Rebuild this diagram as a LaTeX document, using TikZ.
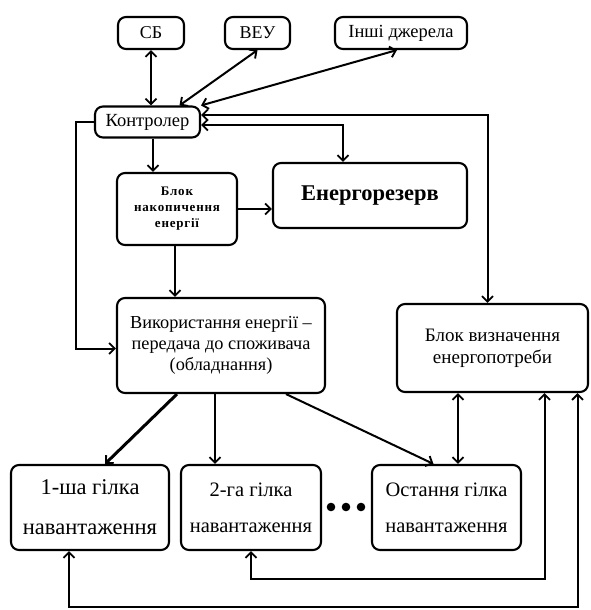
\documentclass[tikz,border=0pt]{standalone}
\usepackage{fontspec}
\setmainfont{Liberation Serif}
\usetikzlibrary{arrows.meta}
\tikzset{
  box/.style={draw, rounded corners=8pt, line width=2.1pt, align=center, inner sep=0pt},
  tip/.tip={Straight Barb[length=5.5pt,width=11pt,line width=1.9pt]},
  conn/.style={line width=2pt, -tip},
  conn2/.style={line width=2pt, tip-tip},
}
\begin{document}
\begin{tikzpicture}[x=1pt,y=-1pt]
\useasboundingbox (0,0) rectangle (590,610);
% nodes
\node[box, minimum width=66pt, minimum height=32pt, font=\fontsize{18}{20}\selectfont] (sb) at (151,33) {СБ};
\node[box, minimum width=65pt, minimum height=32pt, font=\fontsize{18}{20}\selectfont] (veu) at (257.5,33) {ВЕУ};
\node[box, minimum width=132pt, minimum height=32pt, font=\fontsize{18.5}{20}\selectfont] (inshi) at (401,33) {Інші джерела};
\node[box, minimum width=105pt, minimum height=31pt, font=\fontsize{18.5}{20}\selectfont] (ctrl) at (147.5,122) {Контролер};
\node[box, minimum width=120pt, minimum height=72pt, font=\fontsize{13}{16}\selectfont\bfseries\addfontfeature{LetterSpace=6}] (nak) at (177,209) {Блок\\накопичення\\енергії};
\node[box, minimum width=194pt, minimum height=65pt, font=\fontsize{22.5}{26}\selectfont\bfseries] (rez) at (370,195.5) {Енергорезерв};
\node[box, minimum width=208pt, minimum height=95pt, font=\fontsize{18.3}{21}\selectfont] (vyk) at (221,345.5) {Використання енергії –\\передача до споживача\\(обладнання)};
\node[box, minimum width=191pt, minimum height=88pt, font=\fontsize{19}{22}\selectfont] (vyzn) at (492.5,348) {Блок визначення\\енергопотреби};
\node[box, minimum width=158pt, minimum height=85pt, font=\fontsize{22.5}{40}\selectfont] (b1) at (90,507.5) {1-ша гілка\\навантаження};
\node[box, minimum width=140pt, minimum height=85pt, font=\fontsize{20.5}{36}\selectfont] (b2) at (251,507.5) {2-га гілка\\навантаження};
\node[box, minimum width=149pt, minimum height=85pt, font=\fontsize{20.5}{36}\selectfont] (bl) at (446.5,507.5) {Остання гілка\\навантаження};
% dots
\foreach \xx in {331,346,361} \fill (\xx,507) circle (4.3pt);
% connectors
\draw[conn2] (sb.south) -- (sb.south |- ctrl.north);
\draw[conn2] (veu.south) -- ([xshift=32pt]ctrl.north);
\draw[conn2] ([xshift=-4pt]inshi.south) -- (ctrl.north east);
\draw[conn2] ([yshift=7pt]ctrl.east) -| ([xshift=-5pt]vyzn.north);
\draw[conn2] ([yshift=-3pt]ctrl.east) -| ([xshift=-27pt]rez.north);
\draw[conn] ([xshift=5.5pt]ctrl.south) -- ([xshift=5.5pt]ctrl.south |- nak.north);
\draw[conn] (nak.east) -- (nak.east -| rez.west);
\draw[conn] ([xshift=-2pt]nak.south) -- ([xshift=-2pt]nak.south |- vyk.north);
\draw[conn] (ctrl.west) -- ++(-18,0) |- ([yshift=-3pt]vyk.west);
\draw[conn, line width=3pt] ([xshift=-44pt]vyk.south) -- ([xshift=15pt]b1.north);
\draw[conn] ([xshift=-6pt]vyk.south) -- ([xshift=-6pt]vyk.south |- b2.north);
\draw[conn] ([xshift=65pt]vyk.south) -- ([xshift=-13pt]bl.north);
\draw[conn2] ([xshift=-34.5pt]vyzn.south) -- ([xshift=-34.5pt]vyzn.south |- bl.north);
\draw[conn2] ([xshift=52pt]vyzn.south) -- ++(0,186) -| (b2.south);
\draw[conn2] ([xshift=85pt]vyzn.south) -- ++(0,214) -| ([xshift=-21pt]b1.south);
\end{tikzpicture}
\end{document}
